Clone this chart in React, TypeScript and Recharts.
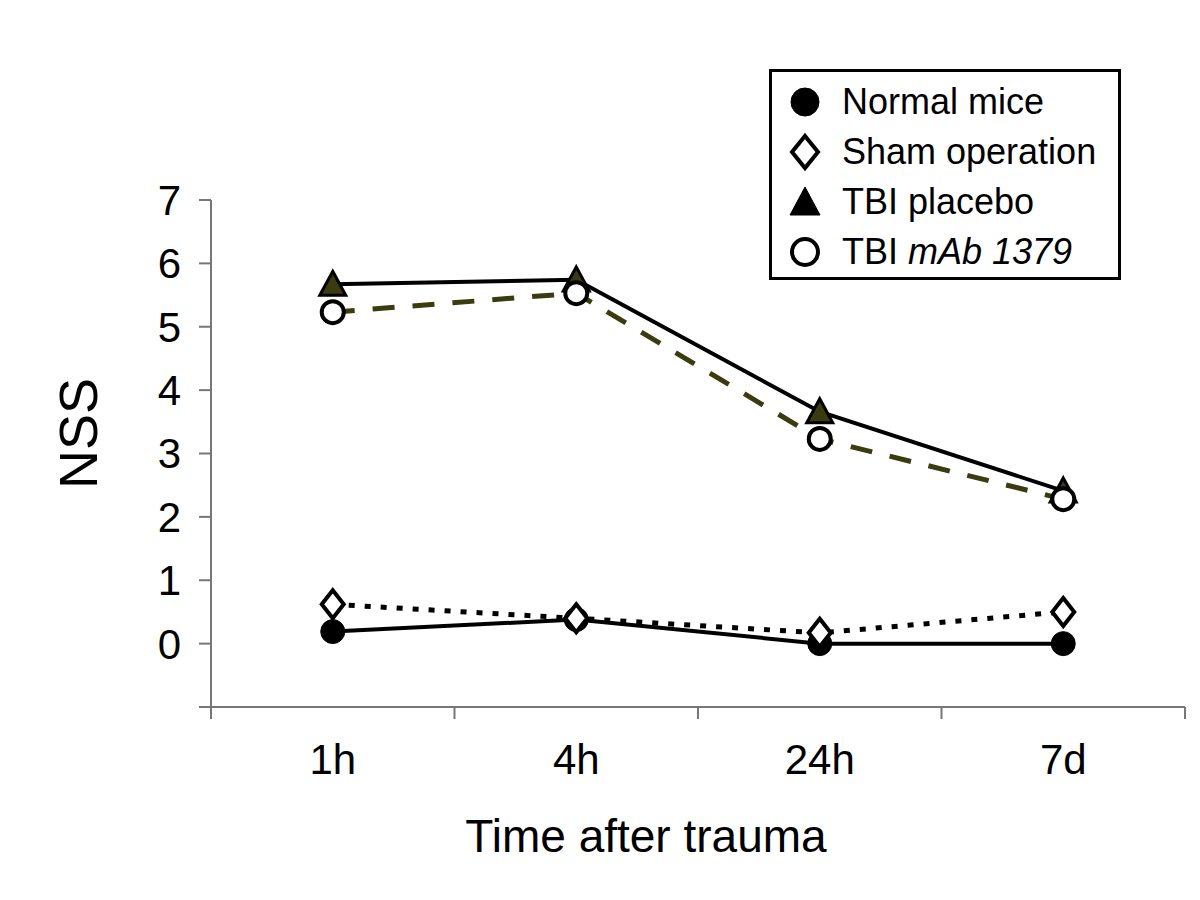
import React from "react";
import { LineChart, Line, XAxis, YAxis, Label } from "recharts";

const categories = ["1h", "4h", "24h", "7d"];
const normalMice = [0.19, 0.38, 0, 0];
const shamOperation = [0.62, 0.4, 0.17, 0.5];
const tbiPlacebo = [5.67, 5.74, 3.66, 2.41];
const tbiMab = [5.23, 5.53, 3.23, 2.28];
const yTicks = [-1, 0, 1, 2, 3, 4, 5, 6, 7];

const data = categories.map((c, i) => ({
  time: c,
  normal: normalMice[i],
  sham: shamOperation[i],
  placebo: tbiPlacebo[i],
  mab: tbiMab[i],
}));

const FONT = "'Liberation Sans', Arial, Helvetica, sans-serif";
const AXIS = "#777777";
const OLIVE = "#3b3b10";

const FilledCircle = ({ cx, cy, r = 12 }: any) => (
  <circle cx={cx} cy={cy} r={r} fill="#000" stroke="#000" strokeWidth={1} />
);
const Diamond = ({ cx, cy, w = 11, h = 14 }: any) => (
  <polygon
    points={`${cx},${cy - h} ${cx + w},${cy} ${cx},${cy + h} ${cx - w},${cy}`}
    fill="#fff"
    stroke="#000"
    strokeWidth={4}
    strokeLinejoin="miter"
  />
);
const Triangle = ({ cx, cy, s = 13 }: any) => (
  <polygon
    points={`${cx},${cy - s} ${cx + s},${cy + s * 0.85} ${cx - s},${cy + s * 0.85}`}
    fill={OLIVE}
    stroke="#000"
    strokeWidth={3}
    strokeLinejoin="miter"
  />
);
const OpenCircle = ({ cx, cy, r = 11 }: any) => (
  <circle cx={cx} cy={cy} r={r} fill="#fff" stroke="#000" strokeWidth={4} />
);

const dotFn = (Comp: any) => (props: any) => (
  <Comp key={`${props.dataKey}-${props.index}`} cx={props.cx} cy={props.cy} />
);

const XTick = (props: any) => {
  const { x, y, payload, index, visibleTicksCount } = props;
  const half = payload && payload.offset ? payload.offset : 0;
  const last = index === (visibleTicksCount ?? categories.length) - 1;
  return (
    <g>
      <line x1={x - half} x2={x - half} y1={y} y2={y + 12} stroke={AXIS} strokeWidth={2} />
      {index === 0 && (
        <line x1={x - half} x2={x - half} y1={y - 2} y2={y + 12} stroke={AXIS} strokeWidth={2} />
      )}
      {last && (
        <line x1={x + half} x2={x + half} y1={y} y2={y + 12} stroke={AXIS} strokeWidth={2} />
      )}
      <text x={x} y={y + 67} textAnchor="middle" fontSize={42} fill="#000" fontFamily={FONT}>
        {payload.value}
      </text>
    </g>
  );
};

const YTitle = (props: any) => {
  const vb = props.viewBox || { x: 0, y: 0, width: 0, height: 0 };
  const cx = vb.x + 68;
  const cy = vb.y + vb.height / 2 - 20;
  return (
    <text
      x={cx}
      y={cy}
      textAnchor="middle"
      dominantBaseline="central"
      fontSize={54}
      fill="#000"
      fontFamily={FONT}
      transform={`rotate(-90, ${cx}, ${cy})`}
    >
      NSS
    </text>
  );
};

const XTitle = (props: any) => {
  const vb = props.viewBox || { x: 0, y: 0, width: 0, height: 0 };
  const cx = vb.x + vb.width / 2 - 52;
  return (
    <text x={cx} y={vb.y + 145} textAnchor="middle" fontSize={46} fill="#000" fontFamily={FONT}>
      Time after trauma
    </text>
  );
};

const legendItems = [
  { label: <>Normal mice</>, Marker: () => <FilledCircle cx={18} cy={18} r={14} /> },
  { label: <>Sham operation</>, Marker: () => <Diamond cx={18} cy={18} w={13} h={16} /> },
  { label: <>TBI placebo</>, Marker: () => (
      <polygon points="18,3 33,31 3,31" fill="#000" stroke="#000" strokeWidth={1} />
    ) },
  { label: <>TBI <i>mAb 1379</i></>, Marker: () => <OpenCircle cx={18} cy={18} r={13} /> },
];

const LegendBox = () => (
  <div
    style={{
      position: "absolute",
      left: 769,
      top: 69,
      boxSizing: "border-box",
      width: 352,
      height: 211,
      border: "3px solid #000",
      background: "#fff",
      paddingTop: 5,
      paddingLeft: 15,
      fontFamily: FONT,
      fontSize: 36,
      color: "#000",
    }}
  >
    {legendItems.map((it, i) => (
      <div key={i} style={{ display: "flex", alignItems: "center", height: 50 }}>
        <svg width={36} height={36} style={{ overflow: "visible" }}>
          <it.Marker />
        </svg>
        <span style={{ marginLeft: 19, whiteSpace: "nowrap", lineHeight: "50px" }}>{it.label}</span>
      </div>
    ))}
  </div>
);

export default function App() {
  return (
    <div style={{ position: "absolute", left: 0, top: 0, width: 1200, height: 900, background: "#fff" }}>
      <LineChart
        width={1200}
        height={900}
        data={data}
        margin={{ top: 200, right: 15, bottom: 133, left: 10 }}
      >
        <XAxis
          dataKey="time"
          type="category"
          scale="band"
          height={60}
          axisLine={{ stroke: AXIS, strokeWidth: 2 }}
          tickLine={false}
          tickSize={0}
          tickMargin={0}
          tick={<XTick />}
          interval={0}
        >
          <Label content={<XTitle />} />
        </XAxis>
        <YAxis
          type="number"
          domain={[-1, 7]}
          ticks={yTicks}
          interval={0}
          width={201}
          axisLine={{ stroke: AXIS, strokeWidth: 2 }}
          tickLine={{ stroke: AXIS, strokeWidth: 2 }}
          tickSize={12}
          tickMargin={18}
          tick={{ fontSize: 42, fill: "#000", fontFamily: FONT }}
          tickFormatter={(v: number) => (v < 0 ? "" : String(v))}
        >
          <Label content={<YTitle />} />
        </YAxis>
        <Line
          dataKey="normal"
          stroke="#000"
          strokeWidth={4}
          dot={dotFn(FilledCircle)}
          activeDot={false}
          isAnimationActive={false}
        />
        <Line
          dataKey="sham"
          stroke="#000"
          strokeWidth={5}
          strokeDasharray="6 10"
          dot={dotFn(Diamond)}
          activeDot={false}
          isAnimationActive={false}
        />
        <Line
          dataKey="placebo"
          stroke="#000"
          strokeWidth={4}
          dot={dotFn(Triangle)}
          activeDot={false}
          isAnimationActive={false}
        />
        <Line
          dataKey="mab"
          stroke={OLIVE}
          strokeWidth={5}
          strokeDasharray="22 18"
          dot={dotFn(OpenCircle)}
          activeDot={false}
          isAnimationActive={false}
        />
      </LineChart>
      <LegendBox />
    </div>
  );
}
